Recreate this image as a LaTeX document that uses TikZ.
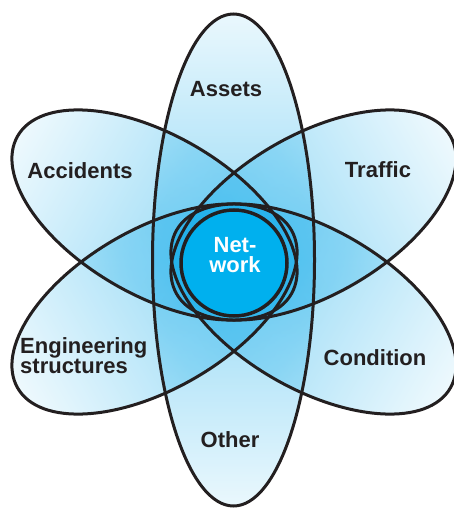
\documentclass[tikz,border=0pt]{standalone}
\usepackage{fontspec}
\setmainfont{Liberation Sans}
\definecolor{petal}{RGB}{0,165,232}
\definecolor{core}{RGB}{0,176,238}
\definecolor{ink}{HTML}{231F20}
\tikzset{
  outline/.style={draw=ink, line width=3pt},
  lbl/.style={font=\fontsize{22}{20}\selectfont\bfseries, text=ink, inner sep=0pt},
  petalfill/.style={fill opacity=0.42}
}
\begin{document}
\begin{tikzpicture}[x=1pt,y=-1pt]
\useasboundingbox (0,0) rectangle (454,508);
% ---- fills ----
\shade[petalfill, top color=petal!20!white, bottom color=petal!20!white, middle color=petal]
  (233.5,260) ellipse [x radius=81, y radius=246];
\begin{scope}[transform canvas={rotate around={-30:(154.5,215)}}]
  \shade[petalfill, left color=petal!16!white, right color=petal, middle color=petal!72!white]
    (154.5,215) ellipse [x radius=158, y radius=80];
\end{scope}
\begin{scope}[transform canvas={rotate around={30:(313.5,215)}}]
  \shade[petalfill, left color=petal, right color=petal!16!white, middle color=petal!72!white]
    (313.5,215) ellipse [x radius=158, y radius=80];
\end{scope}
\begin{scope}[transform canvas={rotate around={30:(154.5,309)}}]
  \shade[petalfill, left color=petal!16!white, right color=petal, middle color=petal!72!white]
    (154.5,309) ellipse [x radius=158, y radius=80];
\end{scope}
\begin{scope}[transform canvas={rotate around={-30:(313.5,309)}}]
  \shade[petalfill, left color=petal, right color=petal!16!white, middle color=petal!72!white]
    (313.5,309) ellipse [x radius=158, y radius=80];
\end{scope}
% ---- outlines ----
\draw[outline] (233.5,260) ellipse [x radius=81, y radius=246];
\begin{scope}[transform canvas={rotate around={-30:(154.5,215)}}]
  \draw[outline] (154.5,215) ellipse [x radius=158, y radius=80];
\end{scope}
\begin{scope}[transform canvas={rotate around={30:(313.5,215)}}]
  \draw[outline] (313.5,215) ellipse [x radius=158, y radius=80];
\end{scope}
\begin{scope}[transform canvas={rotate around={30:(154.5,309)}}]
  \draw[outline] (154.5,309) ellipse [x radius=158, y radius=80];
\end{scope}
\begin{scope}[transform canvas={rotate around={-30:(313.5,309)}}]
  \draw[outline] (313.5,309) ellipse [x radius=158, y radius=80];
\end{scope}
% ---- centre ----
\node[circle, draw=ink, line width=3.5pt, fill=core, minimum size=106pt, inner sep=0pt] (net) at (234,263) {};
\node[lbl, text=white, align=center, font=\fontsize{22}{20}\selectfont\bfseries, anchor=north] (nettext) at (235,237) {Net-\\work};
% ---- labels ----
\node[lbl, anchor=base] (assets) at (226,96) {Assets};
\node[lbl, anchor=base] (accidents) at (80,178) {Accidents};
\node[lbl, anchor=base] (traffic) at (378,177) {Traffic};
\node[lbl, anchor=north west, align=left] (eng) at (20,337) {Engineering\\structures};
\node[lbl, anchor=base] (condition) at (375,365) {Condition};
\node[lbl, anchor=base] (other) at (230,447) {Other};
\end{tikzpicture}
\end{document}
